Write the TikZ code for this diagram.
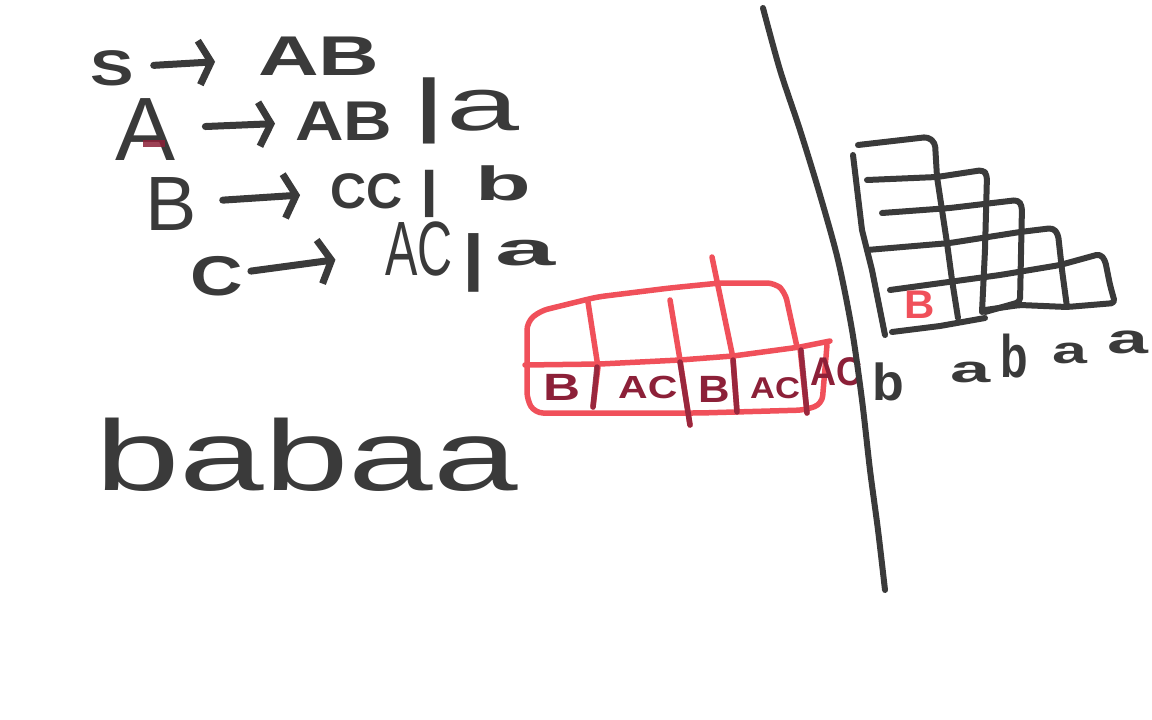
\documentclass[tikz,border=0pt]{standalone}
\usepackage{fontspec}
\usepackage{graphicx}
\setmainfont{Liberation Sans}
\usetikzlibrary{arrows.meta}
\definecolor{ink}{HTML}{3A3A3A}
\definecolor{redl}{HTML}{F0505A}
\definecolor{dred}{HTML}{8C2038}
\newcommand{\hw}[3]{\fontsize{#1}{#1}\selectfont\scalebox{#2}[1]{#3}}
\begin{document}
\begin{tikzpicture}[x=1pt,y=-1pt,
  txt/.style={anchor=base west, inner sep=0pt, text=ink, font=\bfseries},
  big/.style={txt, font=\normalfont},
  rtxt/.style={txt, text=dred},
  pen/.style={draw=ink, line width=7pt, line cap=round, line join=round},
  rpen/.style={draw=redl, line width=5.5pt, line cap=round, line join=round},
  dpen/.style={draw=dred, opacity=0.85, line width=5.5pt, line cap=round, line join=round},
  arr/.style={pen, -{Straight Barb[length=12pt,width=44pt]}}]
\useasboundingbox[fill=white] (0,0) rectangle (1152,720);

% grammar
\node[txt] (S) at (90,85) {\hw{50}{1.3}{S}};
\node[txt] (AB1) at (258,75) {\hw{56}{1.5}{AB}};
\node[big] (A) at (115,160) {\hw{90}{1}{A}};
\node[txt] (AB2) at (295,140) {\hw{56}{1.2}{AB}};
\node[txt] (bar1) at (416,128) {\hw{70}{1.3}{|}};
\node[big] (a1) at (446,130) {\hw{75}{1.75}{a}};
\node[big] (B) at (145,230) {\hw{77}{1}{B}};
\node[txt] (CC) at (330,208) {\hw{50}{1}{CC}};
\node[txt] (bar2) at (420,206) {\hw{50}{1.3}{|}};
\node[txt] (b1) at (475,200) {\hw{48}{1.9}{b}};
\node[txt] (C) at (190,295) {\hw{56}{1.3}{C}};
\node[big] (AC) at (385,275) {\hw{77}{0.63}{AC}};
\node[txt] (bar3) at (462,278) {\hw{62}{1.3}{|}};
\node[txt] (a2) at (495,265) {\hw{47}{2.3}{a}};
\fill[dred, opacity=0.85] (143,140) rectangle (165,147);

\draw[arr, shorten <=20pt, shorten >=43pt] (S) -- (AB1);
\draw[arr, shorten <=30pt, shorten >=20pt] (A) -- (AB2);
\draw[arr, shorten <=26pt, shorten >=30pt] (B) -- (CC);
\draw[arr, shorten <=8pt, shorten >=50pt] (C) -- (AC);

% input word
\node[big] (word) at (95,490) {\hw{100}{1.52}{babaa}};

% red table
\draw[rpen, rounded corners=8pt] (797,347) -- (785,292) -- (775,283) -- (720,283) -- (670,288) -- (597,297) -- (540,311) -- (527,322) -- (527,400) -- (535,413) -- (700,413) -- (805,410) -- (822,404) -- (827,345);
\draw[rpen] (525,365) -- (600,364) -- (680,360) -- (733,356) -- (800,347) -- (830,341);
\draw[rpen] (588,302) -- (598,367) -- (593,407);
\draw[rpen] (670,300) -- (680,360) -- (690,425);
\draw[rpen] (712,257) -- (733,358) -- (737,412);
\draw[rpen] (800,348) -- (807,413);
\draw[dpen] (597,367) -- (593,407);
\draw[dpen] (680,362) -- (690,425);
\draw[dpen] (733,360) -- (737,412);
\draw[dpen] (801,350) -- (807,413);
\node[rtxt] (r1) at (543,400) {\hw{38}{1.35}{B}};
\node[rtxt] (r2) at (618,398) {\hw{32}{1.28}{AC}};
\node[rtxt] (r3) at (698,402) {\hw{38}{1.15}{B}};
\node[rtxt] (r4) at (750,398) {\hw{30}{1.15}{AC}};
\node[rtxt] (r5) at (810,385) {\hw{40}{0.9}{AC}};

% divider
\draw[pen, line width=6pt] plot[smooth] coordinates {(763,8) (780,70) (800,130) (820,195) (838,260) (852,330) (862,400) (870,470) (878,530) (885,590)};

% CYK triangle
\draw[pen, line width=6pt] (853,155) -- (862,230) -- (872,270) -- (885,335);
\draw[pen, line width=6pt, rounded corners=4pt] (858,145) -- (928,137) -- (935,143) -- (937,177) -- (947,243) -- (952,280) -- (958,318);
\draw[pen, line width=6pt, rounded corners=4pt] (867,180) -- (937,177) -- (983,170) -- (987,175) -- (985,250) -- (982,312);
\draw[pen, line width=6pt, rounded corners=4pt] (882,213) -- (950,208) -- (1018,200) -- (1022,206) -- (1020,302) -- (985,312);
\draw[pen, line width=6pt, rounded corners=4pt] (867,250) -- (950,243) -- (1020,232) -- (1053,228) -- (1058,234) -- (1062,270) -- (1067,307);
\draw[pen, line width=6pt, rounded corners=4pt] (890,290) -- (1000,275) -- (1060,265) -- (1100,254) -- (1105,260) -- (1110,285) -- (1115,303) -- (1067,307) -- (1020,305) -- (985,310);
\draw[pen, line width=6pt] (892,332) -- (940,326) -- (985,318);
\node[txt, text=redl] (cb) at (904,318) {\hw{40}{1.05}{B}};

% word under table
\node[txt] (w1) at (872,400) {\hw{52}{1}{b}};
\node[txt] (w2) at (950,382) {\hw{38}{1.9}{a}};
\node[txt] (w3) at (1000,377) {\hw{60}{0.75}{b}};
\node[txt] (w4) at (1052,363) {\hw{38}{1.65}{a}};
\node[txt] (w5) at (1107,353) {\hw{42}{1.75}{a}};
\end{tikzpicture}
\end{document}
